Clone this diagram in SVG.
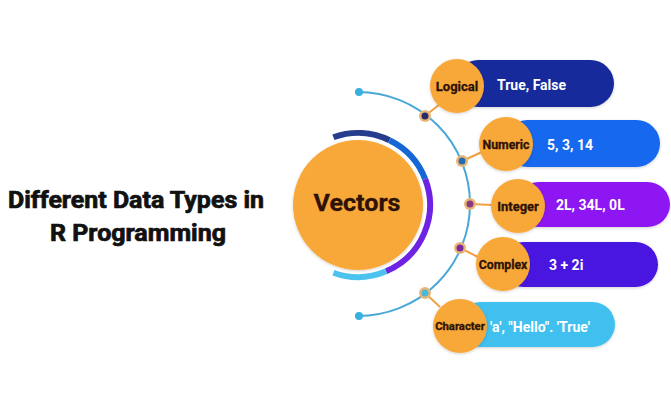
<svg xmlns="http://www.w3.org/2000/svg" width="671" height="400" viewBox="0 0 671 400">
<defs>
<filter id="sh" x="-20%" y="-20%" width="140%" height="140%"><feDropShadow dx="0" dy="1" stdDeviation="1.5" flood-color="#000" flood-opacity="0.18"/></filter>
<style>
.title{font-family:Roboto,"Liberation Sans",sans-serif;font-weight:bold;font-size:23px;fill:#111;stroke:#111;stroke-width:0.7;text-anchor:middle}
.orb{fill:#f8a838;filter:url(#sh)}
.lbl{font-family:Roboto,"Liberation Sans",sans-serif;font-weight:bold;fill:#2e1206;stroke:#2e1206;stroke-width:0.3;text-anchor:middle}
.val{font-family:Roboto,"Liberation Sans",sans-serif;font-weight:bold;font-size:14px;fill:#fff}
.ring{fill:none;stroke-width:6}
.link{stroke:#f0a040;stroke-width:2;fill:none}
.jo{fill:#e9b676}
</style>
</defs>
<rect width="671" height="400" fill="#fff"/>
<g id="title">
<text class="title" x="136" y="208" textLength="256" lengthAdjust="spacingAndGlyphs">Different Data Types in</text>
<text class="title" x="138" y="241" textLength="176" lengthAdjust="spacingAndGlyphs">R Programming</text>
</g>
<g id="connectors">
<path d="M358,92 A112,112 0 0 1 358,316" fill="none" stroke="#4aa8d8" stroke-width="2"/>
<circle cx="359" cy="92" r="4" fill="#3ab0e0"/>
<circle cx="359" cy="316" r="4" fill="#3ab0e0"/>
<line class="link" x1="425" y1="116" x2="440" y2="104"/>
<line class="link" x1="462" y1="161" x2="482" y2="152"/>
<line class="link" x1="470" y1="204" x2="492" y2="205"/>
<line class="link" x1="460" y1="248" x2="480" y2="258"/>
<line class="link" x1="425" y1="293" x2="440" y2="307"/>
<circle class="jo" cx="425" cy="116" r="6"/><circle cx="425" cy="116" r="3.5" fill="#2a2a6a"/>
<circle class="jo" cx="462" cy="161" r="6"/><circle cx="462" cy="161" r="3.5" fill="#2a6ab0"/>
<circle class="jo" cx="470" cy="204" r="6"/><circle cx="470" cy="204" r="3.5" fill="#8a3a80"/>
<circle class="jo" cx="460" cy="248" r="6"/><circle cx="460" cy="248" r="3.5" fill="#7a2aa0"/>
<circle class="jo" cx="425" cy="293" r="6"/><circle cx="425" cy="293" r="3.5" fill="#4ab8d8"/>
</g>
<g id="vectors">
<path class="ring" stroke="#263d8e" d="M333.4,137.3 A72,72 0 0 1 389.5,140.3"/>
<path class="ring" stroke="#1766d6" d="M389.5,140.3 A72,72 0 0 1 425.2,179.2"/>
<path class="ring" stroke="#6d22e4" stroke-width="7" d="M425.2,179.2 A72,72 0 0 1 386.1,271.3"/>
<path class="ring" stroke="#4cc3ee" d="M386.1,271.3 A72,72 0 0 1 333.4,272.7"/>
<circle class="orb" cx="358" cy="205" r="65"/>
<text class="lbl" x="357" y="211" font-size="23" stroke-width="0.8" textLength="87" lengthAdjust="spacingAndGlyphs">Vectors</text>
</g>
<g id="logical">
<rect x="455" y="60" width="159" height="47" rx="23.5" fill="#162c9c" filter="url(#sh)"/>
<circle class="orb" cx="457" cy="86" r="27"/>
<text class="lbl" x="457" y="91" font-size="13">Logical</text>
<text class="val" x="497" y="90">True, False</text>
</g>
<g id="numeric">
<rect x="504" y="120" width="156" height="47" rx="23.5" fill="#1468ee" filter="url(#sh)"/>
<circle class="orb" cx="506" cy="144" r="27"/>
<text class="lbl" x="506" y="149" font-size="12.3">Numeric</text>
<text class="val" x="547" y="150">5, 3, 14</text>
</g>
<g id="integer">
<rect x="516" y="182" width="154" height="45" rx="22.5" fill="#8d16f2" filter="url(#sh)"/>
<circle class="orb" cx="518" cy="206" r="27"/>
<text class="lbl" x="518" y="211" font-size="13">Integer</text>
<text class="val" x="556" y="210">2L, 34L, 0L</text>
</g>
<g id="complex">
<rect x="501" y="242" width="157" height="45" rx="22.5" fill="#4a12df" filter="url(#sh)"/>
<circle class="orb" cx="503" cy="264" r="27"/>
<text class="lbl" x="503" y="269" font-size="12.3">Complex</text>
<text class="val" x="549" y="270">3 + 2i</text>
</g>
<g id="character">
<rect x="458" y="302" width="157" height="45" rx="22.5" fill="#40c0ef" filter="url(#sh)"/>
<circle class="orb" cx="460" cy="326" r="27"/>
<text class="lbl" x="460" y="330" font-size="11.3">Character</text>
<text class="val" x="490" y="332">'a', "Hello". 'True'</text>
</g>
</svg>
